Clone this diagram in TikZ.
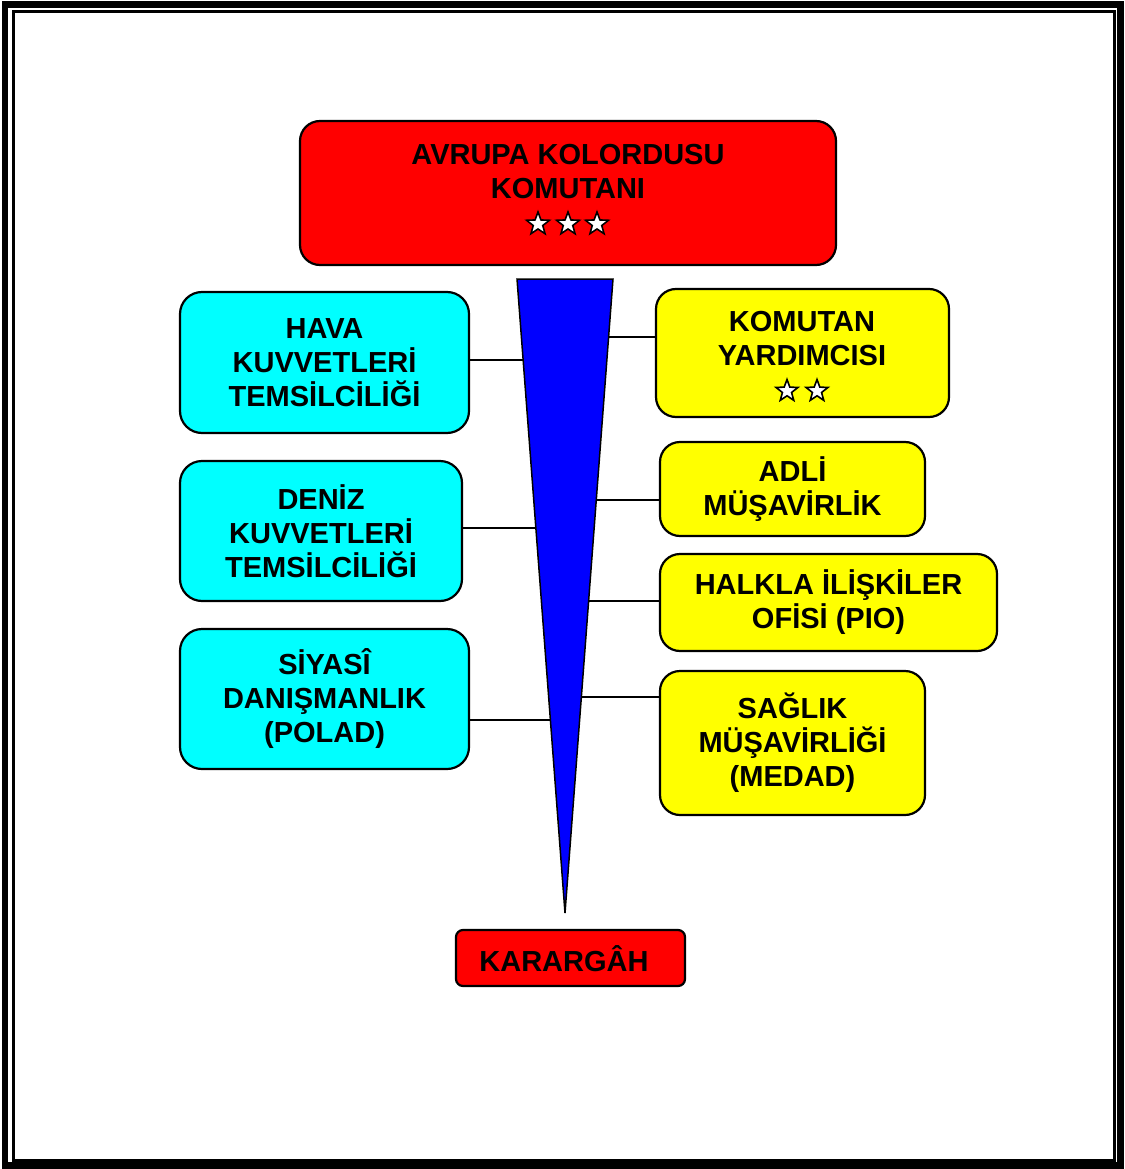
\documentclass[tikz,border=0pt]{standalone}
\usepackage{fontspec}
\setmainfont{Liberation Sans}
\usetikzlibrary{shapes.geometric,calc}
\definecolor{boxred}{RGB}{255,0,0}
\definecolor{boxcyan}{RGB}{0,255,255}
\definecolor{boxyellow}{RGB}{255,255,0}
\definecolor{triblue}{RGB}{0,0,255}
\begin{document}
\begin{tikzpicture}[x=1pt,y=-1pt,
  box/.style={draw=black, line width=2.2pt, rounded corners=20pt, inner sep=0pt, align=center,
    font=\fontsize{29}{34}\selectfont\bfseries},
  txt/.style={font=\fontsize{29}{34}\selectfont\bfseries, align=center, inner sep=0pt},
  conn/.style={line width=2.2pt},
  starmark/.style={star, star points=5, star point ratio=2.4, fill=white, draw=black, line width=1.6pt, minimum size=24pt, inner sep=0pt}]
\useasboundingbox (0,0) rectangle (1124,1169);
\fill[white] (0,0) rectangle (1124,1169);
% frame
\draw[line width=6.5pt] (5,4.5) rectangle (1120.5,1165.5);
\draw[line width=3pt] (13.5,11.5) rectangle (1114,1160);
% commander
\node[box, fill=boxred, minimum width=536pt, minimum height=144pt] (cmd) at (568,193) {};
\node[txt] (cmdtext) at (568,172) {AVRUPA KOLORDUSU\\KOMUTANI};
\node[starmark] (s1) at (538,224) {};
\node[starmark] (s2) at (568,224) {};
\node[starmark] (s3) at (597,224) {};
% triangle
\coordinate (tl) at (517,279);
\coordinate (tr) at (613,279);
\coordinate (apex) at (565,913);
% left boxes
\node[box, fill=boxcyan, rounded corners=22pt, minimum width=289pt, minimum height=141pt] (hava) at (324.5,362.5) {HAVA\\KUVVETLERİ\\TEMSİLCİLİĞİ};
\node[box, fill=boxcyan, rounded corners=22pt, minimum width=282pt, minimum height=140pt] (deniz) at (321,531) {DENİZ\\KUVVETLERİ\\TEMSİLCİLİĞİ};
\node[box, fill=boxcyan, rounded corners=22pt, minimum width=289pt, minimum height=140pt] (siyasi) at (324.5,699) {SİYASÎ\\DANIŞMANLIK\\(POLAD)};
% right boxes
\node[box, fill=boxyellow, minimum width=293pt, minimum height=128pt] (kom) at (802.5,353) {};
\node[txt] (komtext) at (802,338.5) {KOMUTAN\\YARDIMCISI};
\node[starmark, minimum size=23pt] (s4) at (787,391) {};
\node[starmark, minimum size=23pt] (s5) at (817,391) {};
\node[box, fill=boxyellow, minimum width=265pt, minimum height=94pt] (adli) at (792.5,489) {ADLİ\\MÜŞAVİRLİK};
\node[box, fill=boxyellow, minimum width=337pt, minimum height=97pt] (halkla) at (828.5,602.5) {HALKLA İLİŞKİLER\\OFİSİ (PIO)};
\node[box, fill=boxyellow, minimum width=265pt, minimum height=144pt] (saglik) at (792.5,743) {SAĞLIK\\MÜŞAVİRLİĞİ\\(MEDAD)};
% headquarters
\node[box, fill=boxred, rounded corners=7pt, minimum width=229pt, minimum height=56pt] (hq) at (570.5,958) {};
\node[txt] (hqtext) at (564,959) {KARARGÂH};
% edge points
\coordinate (l1) at ($(tl)!0.1278!(apex)$);
\coordinate (l2) at ($(tl)!0.3927!(apex)$);
\coordinate (l3) at ($(tl)!0.6956!(apex)$);
\coordinate (r1) at ($(tr)!0.0915!(apex)$);
\coordinate (r2) at ($(tr)!0.3486!(apex)$);
\coordinate (r3) at ($(tr)!0.5079!(apex)$);
\coordinate (r4) at ($(tr)!0.6593!(apex)$);
% connectors
\draw[conn] (hava.east |- l1) -- (l1);
\draw[conn] (deniz.east |- l2) -- (l2);
\draw[conn] (siyasi.east |- l3) -- (l3);
\draw[conn] (r1) -- (kom.west |- r1);
\draw[conn] (r2) -- (adli.west |- r2);
\draw[conn] (r3) -- (halkla.west |- r3);
\draw[conn] (r4) -- (saglik.west |- r4);
% triangle
\draw[fill=triblue, line width=1.5pt, line join=miter] (tl) -- (tr) -- (apex) -- cycle;
\end{tikzpicture}
\end{document}
